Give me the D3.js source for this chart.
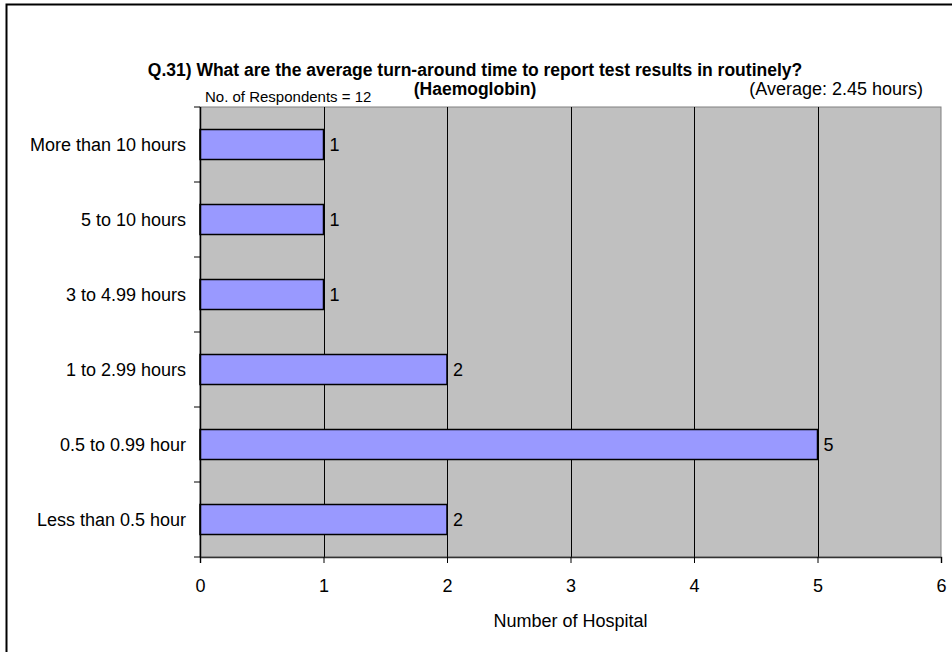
<!DOCTYPE html>
<html>
<head>
<meta charset="utf-8">
<script src="https://cdn.jsdelivr.net/npm/d3@7"></script>
<style>
  body { margin: 0; background: #fff; }
  svg { display: block; font-family: Arial, "Liberation Sans", sans-serif; }
</style>
</head>
<body>
<div id="chart"></div>
<script>
// data
var categories = ["More than 10 hours", "5 to 10 hours", "3 to 4.99 hours",
                  "1 to 2.99 hours", "0.5 to 0.99 hour", "Less than 0.5 hour"];
var counts = [1, 1, 1, 2, 5, 2];
var xTicks = [0, 1, 2, 3, 4, 5, 6];

var width = 952, height = 652;
var margin = { top: 107, right: 11, bottom: 95, left: 200 };
var plotW = width - margin.left - margin.right,
    plotH = height - margin.top - margin.bottom;

var svg = d3.select("#chart").append("svg")
    .attr("width", width)
    .attr("height", height);

// outer frame (right/bottom run off the picture)
svg.append("rect")
    .attr("x", 6.5).attr("y", 4.5)
    .attr("width", 1000).attr("height", 1000)
    .attr("fill", "none")
    .attr("stroke", "#000")
    .attr("stroke-width", 2);

var x = d3.scaleLinear().domain([0, 6]).range([0, plotW]);
var y = d3.scaleBand().domain(categories).range([0, plotH]).paddingInner(0.6).paddingOuter(0.3);

var g = svg.append("g")
    .attr("transform", "translate(" + margin.left + "," + margin.top + ")");

// plot background
g.append("rect")
    .attr("width", plotW).attr("height", plotH)
    .attr("fill", "#c0c0c0")
    .attr("stroke", "#808080");

// vertical gridlines
g.selectAll(".grid")
    .data(xTicks.slice(1, -1))
    .enter().append("line")
    .attr("class", "grid")
    .attr("x1", function (d) { return Math.round(x(d)) + 0.5; })
    .attr("x2", function (d) { return Math.round(x(d)) + 0.5; })
    .attr("y1", 0).attr("y2", plotH)
    .attr("stroke", "#000");

// bars
g.selectAll(".bar")
    .data(counts)
    .enter().append("rect")
    .attr("class", "bar")
    .attr("x", 0)
    .attr("y", function (d, i) { return y(categories[i]); })
    .attr("width", function (d) { return x(d); })
    .attr("height", y.bandwidth())
    .attr("fill", "#9999ff")
    .attr("stroke", "#000")
    .attr("stroke-width", 1.5);

// value labels
g.selectAll(".val")
    .data(counts)
    .enter().append("text")
    .attr("class", "val")
    .attr("x", function (d) { return x(d) + 6; })
    .attr("y", function (d, i) { return y(categories[i]) + y.bandwidth() / 2; })
    .attr("dy", "0.36em")
    .style("font-size", "18px")
    .text(function (d) { return d; });

// x axis
var xAxis = g.append("g")
    .attr("transform", "translate(0," + plotH + ")")
    .call(d3.axisBottom(x).tickValues(xTicks).tickFormat(d3.format("d")).tickSize(6).tickPadding(16));
xAxis.select(".domain").attr("stroke", "#333").attr("stroke-width", 1.5);
xAxis.selectAll("text").style("font-size", "18px").attr("fill", "#000");

// y axis: ticks sit on the category boundaries
var step = plotH / categories.length;
var yAxis = g.append("g");
yAxis.append("line")
    .attr("x1", 0.5).attr("x2", 0.5)
    .attr("y1", 0).attr("y2", plotH)
    .attr("stroke", "#000").attr("stroke-width", 1.5);
yAxis.selectAll(".ytick")
    .data(d3.range(categories.length + 1))
    .enter().append("line")
    .attr("x1", -6).attr("x2", 0)
    .attr("y1", function (d) { return d * step; })
    .attr("y2", function (d) { return d * step; })
    .attr("stroke", "#000");
yAxis.selectAll(".ylab")
    .data(categories)
    .enter().append("text")
    .attr("x", -14)
    .attr("y", function (d) { return y(d) + y.bandwidth() / 2; })
    .attr("dy", "0.36em")
    .attr("text-anchor", "end")
    .style("font-size", "18px")
    .text(function (d) { return d; });

// axis title
svg.append("text")
    .attr("x", margin.left + plotW / 2)
    .attr("y", 627)
    .attr("text-anchor", "middle")
    .style("font-size", "18px")
    .text("Number of Hospital");

// titles
svg.append("text")
    .attr("x", 475).attr("y", 76)
    .attr("text-anchor", "middle")
    .style("font-size", "17.5px").style("font-weight", "bold")
    .text("Q.31) What are the average turn-around time to report test results in routinely?");
svg.append("text")
    .attr("x", 475).attr("y", 95)
    .attr("text-anchor", "middle")
    .style("font-size", "17.5px").style("font-weight", "bold")
    .text("(Haemoglobin)");
svg.append("text")
    .attr("x", 205).attr("y", 102)
    .style("font-size", "15px")
    .text("No. of Respondents = 12");
svg.append("text")
    .attr("x", 923).attr("y", 95)
    .attr("text-anchor", "end")
    .style("font-size", "18px")
    .text("(Average: 2.45 hours)");
</script>
</body>
</html>
